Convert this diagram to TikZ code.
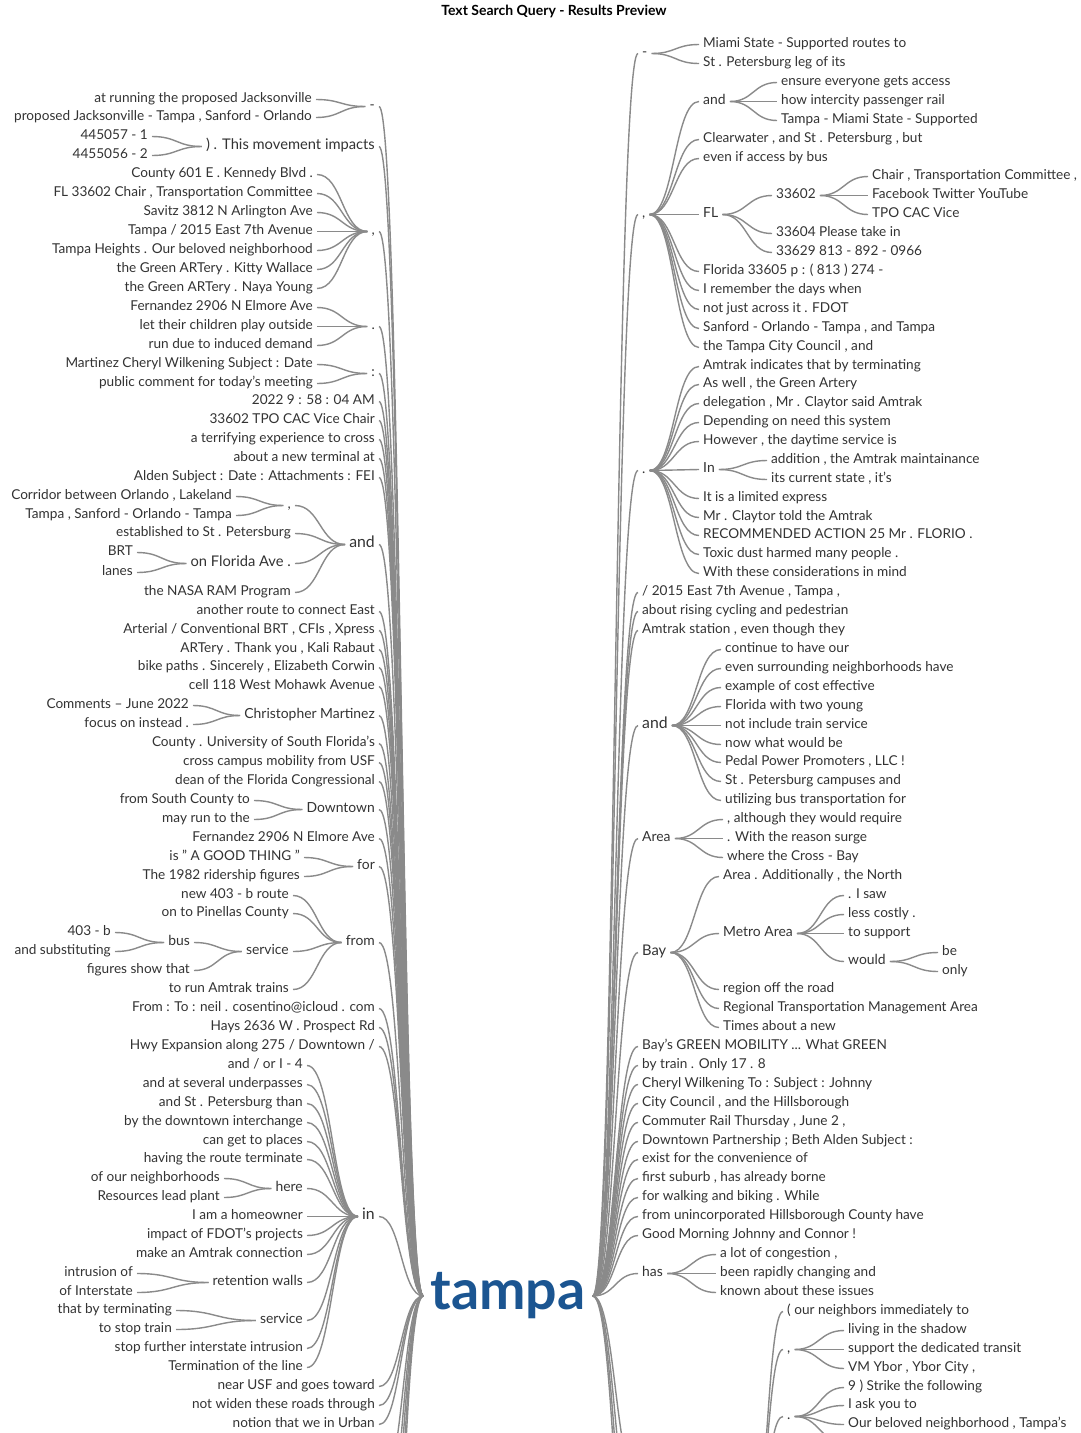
\documentclass[tikz,border=0pt]{standalone}
\usepackage{fontspec}
\setmainfont{Lato}
\usetikzlibrary{calc}
\definecolor{lc}{HTML}{8A8A8A}
\definecolor{tx}{HTML}{333333}
\definecolor{rootc}{HTML}{1B5591}
\newcommand{\fsA}{\fontsize{13.6}{15}\selectfont}
\newcommand{\fsB}{\fontsize{13.9}{15}\selectfont}
\newcommand{\fsD}{\fontsize{14.7}{16}\selectfont}
\newcommand{\fsC}{\fontsize{15.8}{17}\selectfont}
\begin{document}
\begin{tikzpicture}[x=1pt,y=-1pt,
  base/.style={inner xsep=0pt, inner ysep=1pt, text=tx, font=\fsA, text height=9.5pt, text depth=3pt, yshift=-1.5pt},
  L/.style={base, anchor=east},
  R/.style={base, anchor=west},
  mid/.style={font=\fsB},
  bigb/.style={font=\fsD},
  big/.style={font=\fsC},
  cn/.style={draw=lc, line width=1.4pt, shorten <=4pt, shorten >=4pt,
    to path={let \p1=(\tikztostart), \p2=(\tikztotarget) in
      .. controls ({0.5*\x1+0.5*\x2},\y1) and ({0.5*\x1+0.5*\x2},\y2) .. (\p2)}}
]
\path[use as bounding box, fill=white] (0,0) rectangle (1080,1433);
\clip (0,0) rectangle (1080,1433);
\node[font=\bfseries\fontsize{14}{16}\selectfont, text=black] (title) at (554,11) {Text Search Query - Results Preview};
\node[font=\bfseries\fontsize{55.5}{60}\selectfont, text=rootc, inner xsep=3pt, inner ysep=0pt] (root) at (508,1296) {tampa};

% ---------------- LEFT ----------------
\node[L,mid] (LA) at (375,105) {-};
\node[L] (LA1) at (312,98) {at running the proposed Jacksonville};
\node[L] (LA2) at (312,116) {proposed Jacksonville - Tampa , Sanford - Orlando};
\node[L,bigb] (LB) at (375,145) {) . This movement impacts};
\node[L] (LB1) at (148,135) {445057 - 1};
\node[L] (LB2) at (148,154) {4455056 - 2};
\node[L,mid] (LC) at (375,230) {,};
\node[L] (LC1) at (313,173) {County 601 E . Kennedy Blvd .};
\node[L] (LC2) at (313,192) {FL 33602 Chair , Transportation Committee};
\node[L] (LC3) at (313,211) {Savitz 3812 N Arlington Ave};
\node[L] (LC4) at (313,230) {Tampa / 2015 East 7th Avenue};
\node[L] (LC5) at (313,249) {Tampa Heights . Our beloved neighborhood};
\node[L] (LC6) at (313,268) {the Green ARTery . Kitty Wallace};
\node[L] (LC7) at (313,287) {the Green ARTery . Naya Young};
\node[L,mid] (LD) at (375,325) {.};
\node[L] (LD1) at (313,306) {Fernandez 2906 N Elmore Ave};
\node[L] (LD2) at (313,325) {let their children play outside};
\node[L] (LD3) at (313,344) {run due to induced demand};
\node[L,mid] (LE) at (375,372) {:};
\node[L] (LE1) at (313,363) {Martinez Cheryl Wilkening Subject : Date};
\node[L] (LE2) at (313,382) {public comment for today's meeting};
\node[L] (LF1) at (375,400) {2022 9 : 58 : 04 AM};
\node[L] (LF2) at (375,419) {33602 TPO CAC Vice Chair};
\node[L] (LF3) at (375,438) {a terrifying experience to cross};
\node[L] (LF4) at (375,457) {about a new terminal at};
\node[L] (LF5) at (375,476) {Alden Subject : Date : Attachments : FEI};
\node[L,big] (LG) at (375,543) {and};
\node[L,mid] (LGa) at (291,504) {,};
\node[L] (LGa1) at (232,495) {Corridor between Orlando , Lakeland};
\node[L] (LGa2) at (232,514) {Tampa , Sanford - Orlando - Tampa};
\node[L] (LGb) at (291,532) {established to St . Petersburg};
\node[L,bigb] (LGc) at (291,562) {on Florida Ave .};
\node[L] (LGc1) at (133,551) {BRT};
\node[L] (LGc2) at (133,571) {lanes};
\node[L] (LGd) at (291,591) {the NASA RAM Program};
\node[L] (LH1) at (375,610) {another route to connect East};
\node[L] (LH2) at (375,629) {Arterial / Conventional BRT , CFIs , Xpress};
\node[L] (LH3) at (375,648) {ARTery . Thank you , Kali Rabaut};
\node[L] (LH4) at (375,666) {bike paths . Sincerely , Elizabeth Corwin};
\node[L] (LH5) at (375,685) {cell 118 West Mohawk Avenue};
\node[L,mid] (LI) at (375,714) {Christopher Martinez};
\node[L] (LI1) at (189,704) {Comments – June 2022};
\node[L] (LI2) at (189,723) {focus on instead .};
\node[L] (LJ1) at (375,742) {County . University of South Florida's};
\node[L] (LJ2) at (375,761) {cross campus mobility from USF};
\node[L] (LJ3) at (375,780) {dean of the Florida Congressional};
\node[L,mid] (LK) at (375,808) {Downtown};
\node[L] (LK1) at (250,799) {from South County to};
\node[L] (LK2) at (250,818) {may run to the};
\node[L] (LL) at (375,837) {Fernandez 2906 N Elmore Ave};
\node[L,mid] (LM) at (375,865) {for};
\node[L] (LM1) at (300,856) {is " A GOOD THING "};
\node[L] (LM2) at (300,875) {The 1982 ridership figures};
\node[L,mid] (LN) at (375,941) {from};
\node[L] (LN1) at (289,894) {new 403 - b route};
\node[L] (LN2) at (289,912) {on to Pinellas County};
\node[L,mid] (LN3) at (289,950) {service};
\node[L,mid] (LN3a) at (190,941) {bus};
\node[L] (LN3a1) at (111,931) {403 - b};
\node[L] (LN3a2) at (111,950) {and substituting};
\node[L] (LN3b) at (190,969) {figures show that};
\node[L] (LN4) at (289,988) {to run Amtrak trains};
\node[L] (LO1) at (375,1007) {From : To : neil . cosentino@icloud . com};
\node[L] (LO2) at (375,1026) {Hays 2636 W . Prospect Rd};
\node[L] (LO3) at (375,1045) {Hwy Expansion along 275 / Downtown /};
\node[L,big] (LP) at (375,1215) {in};
\node[L] (LP1) at (303,1064) {and / or I - 4};
\node[L] (LP2) at (303,1083) {and at several underpasses};
\node[L] (LP3) at (303,1102) {and St . Petersburg than};
\node[L] (LP4) at (303,1121) {by the downtown interchange};
\node[L] (LP5) at (303,1140) {can get to places};
\node[L] (LP6) at (303,1158) {having the route terminate};
\node[L,mid] (LP7) at (303,1187) {here};
\node[L] (LP7a) at (220,1177) {of our neighborhoods};
\node[L] (LP7b) at (220,1196) {Resources lead plant};
\node[L] (LP8) at (303,1215) {I am a homeowner};
\node[L] (LP9) at (303,1234) {impact of FDOT's projects};
\node[L] (LP10) at (303,1253) {make an Amtrak connection};
\node[L,mid] (LP11) at (303,1281) {retention walls};
\node[L] (LP11a) at (133,1272) {intrusion of};
\node[L] (LP11b) at (133,1291) {of Interstate};
\node[L,mid] (LP12) at (303,1319) {service};
\node[L] (LP12a) at (172,1309) {that by terminating};
\node[L] (LP12b) at (172,1328) {to stop train};
\node[L] (LP13) at (303,1347) {stop further interstate intrusion};
\node[L] (LP14) at (303,1366) {Termination of the line};
\node[L] (LQ1) at (375,1385) {near USF and goes toward};
\node[L] (LQ2) at (375,1404) {not widen these roads through};
\node[L] (LQ3) at (375,1423) {notion that we in Urban};
\coordinate (LZ1) at (379,1480);
\coordinate (LZ2) at (379,1530);
\coordinate (LZ3) at (379,1580);
\coordinate (LZ4) at (379,1640);
\coordinate (LZ5) at (379,1700);

\foreach \k in {LA1,LA2} \draw[cn] (\k.east) to (LA.west);
\foreach \k in {LB1,LB2} \draw[cn] (\k.east) to (LB.west);
\foreach \k in {LC1,LC2,LC3,LC4,LC5,LC6,LC7} \draw[cn] (\k.east) to (LC.west);
\foreach \k in {LD1,LD2,LD3} \draw[cn] (\k.east) to (LD.west);
\foreach \k in {LE1,LE2} \draw[cn] (\k.east) to (LE.west);
\foreach \k in {LGa1,LGa2} \draw[cn] (\k.east) to (LGa.west);
\foreach \k in {LGc1,LGc2} \draw[cn] (\k.east) to (LGc.west);
\foreach \k in {LGa,LGb,LGc,LGd} \draw[cn] (\k.east) to (LG.west);
\foreach \k in {LI1,LI2} \draw[cn] (\k.east) to (LI.west);
\foreach \k in {LK1,LK2} \draw[cn] (\k.east) to (LK.west);
\foreach \k in {LM1,LM2} \draw[cn] (\k.east) to (LM.west);
\foreach \k in {LN3a1,LN3a2} \draw[cn] (\k.east) to (LN3a.west);
\foreach \k in {LN3a,LN3b} \draw[cn] (\k.east) to (LN3.west);
\foreach \k in {LN1,LN2,LN3,LN4} \draw[cn] (\k.east) to (LN.west);
\foreach \k in {LP7a,LP7b} \draw[cn] (\k.east) to (LP7.west);
\foreach \k in {LP11a,LP11b} \draw[cn] (\k.east) to (LP11.west);
\foreach \k in {LP12a,LP12b} \draw[cn] (\k.east) to (LP12.west);
\foreach \k in {LP1,LP2,LP3,LP4,LP5,LP6,LP7,LP8,LP9,LP10,LP11,LP12,LP13,LP14} \draw[cn] (\k.east) to (LP.west);
\foreach \k in {LA,LB,LC,LD,LE,LF1,LF2,LF3,LF4,LF5,LG,LH1,LH2,LH3,LH4,LH5,LI,LJ1,LJ2,LJ3,LK,LL,LM,LN,LO1,LO2,LO3,LP,LQ1,LQ2,LQ3}
  \draw[cn] (\k.east) to (root.west);
\foreach \k in {LZ1,LZ2,LZ3,LZ4,LZ5} \draw[cn] (\k) to (root.west);

% ---------------- RIGHT ----------------
\node[R,mid] (RA) at (642,52) {-};
\node[R] (RA1) at (703,43) {Miami State - Supported routes to};
\node[R] (RA2) at (703,62) {St . Petersburg leg of its};
\node[R,mid] (RB) at (642,213) {,};
\node[R,mid] (RB1) at (703,100) {and};
\node[R] (RB1a) at (781,81) {ensure everyone gets access};
\node[R] (RB1b) at (781,100) {how intercity passenger rail};
\node[R] (RB1c) at (781,119) {Tampa - Miami State - Supported};
\node[R] (RB2) at (703,138) {Clearwater , and St . Petersburg , but};
\node[R] (RB3) at (703,157) {even if access by bus};
\node[R,mid] (RB4) at (703,213) {FL};
\node[R] (RB4a) at (776,194) {33602};
\node[R] (RB4a1) at (872,175) {Chair , Transportation Committee ,};
\node[R] (RB4a2) at (872,194) {Facebook Twitter YouTube};
\node[R] (RB4a3) at (872,213) {TPO CAC Vice};
\node[R] (RB4b) at (776,232) {33604 Please take in};
\node[R] (RB4c) at (776,251) {33629 813 - 892 - 0966};
\node[R] (RB5) at (703,270) {Florida 33605 p : ( 813 ) 274 -};
\node[R] (RB6) at (703,289) {I remember the days when};
\node[R] (RB7) at (703,308) {not just across it . FDOT};
\node[R] (RB8) at (703,327) {Sanford - Orlando - Tampa , and Tampa};
\node[R] (RB9) at (703,346) {the Tampa City Council , and};
\node[R,mid] (RC) at (642,469) {.};
\node[R] (RC1) at (703,365) {Amtrak indicates that by terminating};
\node[R] (RC2) at (703,383) {As well , the Green Artery};
\node[R] (RC3) at (703,402) {delegation , Mr . Claytor said Amtrak};
\node[R] (RC4) at (703,421) {Depending on need this system};
\node[R] (RC5) at (703,440) {However , the daytime service is};
\node[R,mid] (RC6) at (703,468) {In};
\node[R] (RC6a) at (771,459) {addition , the Amtrak maintainance};
\node[R] (RC6b) at (771,478) {its current state , it's};
\node[R] (RC7) at (703,497) {It is a limited express};
\node[R] (RC8) at (703,516) {Mr . Claytor told the Amtrak};
\node[R] (RC9) at (703,534) {RECOMMENDED ACTION 25 Mr . FLORIO .};
\node[R] (RC10) at (703,553) {Toxic dust harmed many people .};
\node[R] (RC11) at (703,572) {With these considerations in mind};
\node[R] (RD1) at (642,591) {/ 2015 East 7th Avenue , Tampa ,};
\node[R] (RD2) at (642,610) {about rising cycling and pedestrian};
\node[R] (RD3) at (642,629) {Amtrak station , even though they};
\node[R,big] (RE) at (642,724) {and};
\node[R] (RE1) at (725,648) {continue to have our};
\node[R] (RE2) at (725,667) {even surrounding neighborhoods have};
\node[R] (RE3) at (725,686) {example of cost effective};
\node[R] (RE4) at (725,705) {Florida with two young};
\node[R] (RE5) at (725,724) {not include train service};
\node[R] (RE6) at (725,743) {now what would be};
\node[R] (RE7) at (725,761) {Pedal Power Promoters , LLC !};
\node[R] (RE8) at (725,780) {St . Petersburg campuses and};
\node[R] (RE9) at (725,799) {utilizing bus transportation for};
\node[R,mid] (RF) at (642,837) {Area};
\node[R] (RF1) at (727,818) {, although they would require};
\node[R] (RF2) at (727,837) {. With the reason surge};
\node[R] (RF3) at (727,856) {where the Cross - Bay};
\node[R,bigb] (RG) at (642,951) {Bay};
\node[R] (RG1) at (723,875) {Area . Additionally , the North};
\node[R,mid] (RG2) at (723,932) {Metro Area};
\node[R] (RG2a) at (848,894) {. I saw};
\node[R] (RG2b) at (848,913) {less costly .};
\node[R] (RG2c) at (848,932) {to support};
\node[R,mid] (RG2d) at (848,960) {would};
\node[R] (RG2d1) at (942,951) {be};
\node[R] (RG2d2) at (942,970) {only};
\node[R] (RG3) at (723,988) {region off the road};
\node[R] (RG4) at (723,1007) {Regional Transportation Management Area};
\node[R] (RG5) at (723,1026) {Times about a new};
\node[R] (RH1) at (642,1045) {Bay's GREEN MOBILITY ... What GREEN};
\node[R] (RH2) at (642,1064) {by train . Only 17 . 8};
\node[R] (RH3) at (642,1083) {Cheryl Wilkening To : Subject : Johnny};
\node[R] (RH4) at (642,1102) {City Council , and the Hillsborough};
\node[R] (RH5) at (642,1121) {Commuter Rail Thursday , June 2 ,};
\node[R] (RH6) at (642,1140) {Downtown Partnership ; Beth Alden Subject :};
\node[R] (RH7) at (642,1158) {exist for the convenience of};
\node[R] (RH8) at (642,1177) {first suburb , has already borne};
\node[R] (RH9) at (642,1196) {for walking and biking . While};
\node[R] (RH10) at (642,1215) {from unincorporated Hillsborough County have};
\node[R] (RH11) at (642,1234) {Good Morning Johnny and Connor !};
\node[R,mid] (RI) at (642,1272) {has};
\node[R] (RI1) at (720,1253) {a lot of congestion ,};
\node[R] (RI2) at (720,1272) {been rapidly changing and};
\node[R] (RI3) at (720,1291) {known about these issues};
\coordinate (RZ) at (748,1530);
\node[R] (RJ1) at (787,1310) {( our neighbors immediately to};
\node[R,mid] (RJ2) at (787,1348) {,};
\node[R] (RJ2a) at (848,1329) {living in the shadow};
\node[R] (RJ2b) at (848,1348) {support the dedicated transit};
\node[R] (RJ2c) at (848,1367) {VM Ybor , Ybor City ,};
\node[R,mid] (RJ3) at (787,1415) {.};
\node[R] (RJ3a) at (848,1386) {9 ) Strike the following};
\node[R] (RJ3b) at (848,1404) {I ask you to};
\node[R] (RJ3c) at (848,1423) {Our beloved neighborhood , Tampa's};
\coordinate (RJ3d) at (848,1442);
\coordinate (RZ1) at (642,1480);
\coordinate (RZ2) at (642,1540);
\coordinate (RZ3) at (642,1600);
\coordinate (RZ4) at (642,1660);

\foreach \k in {RA1,RA2} \draw[cn] (RA.east) to (\k.west);
\foreach \k in {RB1a,RB1b,RB1c} \draw[cn] (RB1.east) to (\k.west);
\foreach \k in {RB4a1,RB4a2,RB4a3} \draw[cn] (RB4a.east) to (\k.west);
\foreach \k in {RB4a,RB4b,RB4c} \draw[cn] (RB4.east) to (\k.west);
\foreach \k in {RB1,RB2,RB3,RB4,RB5,RB6,RB7,RB8,RB9} \draw[cn] (RB.east) to (\k.west);
\foreach \k in {RC6a,RC6b} \draw[cn] (RC6.east) to (\k.west);
\foreach \k in {RC1,RC2,RC3,RC4,RC5,RC6,RC7,RC8,RC9,RC10,RC11} \draw[cn] (RC.east) to (\k.west);
\foreach \k in {RE1,RE2,RE3,RE4,RE5,RE6,RE7,RE8,RE9} \draw[cn] (RE.east) to (\k.west);
\foreach \k in {RF1,RF2,RF3} \draw[cn] (RF.east) to (\k.west);
\foreach \k in {RG2d1,RG2d2} \draw[cn] (RG2d.east) to (\k.west);
\foreach \k in {RG2a,RG2b,RG2c,RG2d} \draw[cn] (RG2.east) to (\k.west);
\foreach \k in {RG1,RG2,RG3,RG4,RG5} \draw[cn] (RG.east) to (\k.west);
\foreach \k in {RI1,RI2,RI3} \draw[cn] (RI.east) to (\k.west);
\foreach \k in {RJ2a,RJ2b,RJ2c} \draw[cn] (RJ2.east) to (\k.west);
\foreach \k in {RJ3a,RJ3b,RJ3c} \draw[cn] (RJ3.east) to (\k.west);
\draw[cn] (RJ3.east) to (RJ3d);
\foreach \k in {RJ1,RJ2,RJ3} \draw[cn] (RZ) to (\k.west);
\foreach \k in {RA,RB,RC,RD1,RD2,RD3,RE,RF,RG,RH1,RH2,RH3,RH4,RH5,RH6,RH7,RH8,RH9,RH10,RH11,RI}
  \draw[cn] (root.east) to (\k.west);
\foreach \k in {RZ1,RZ2,RZ3,RZ4} \draw[cn] (root.east) to (\k);
\end{tikzpicture}
\end{document}
